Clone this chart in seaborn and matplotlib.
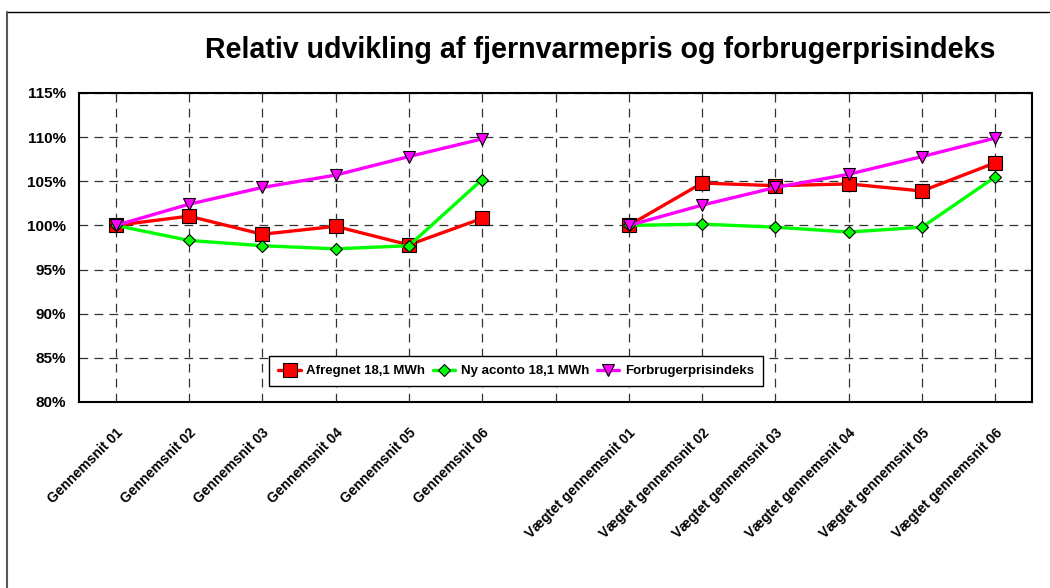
import numpy as np
import pandas as pd
import matplotlib
matplotlib.use("Agg")
import matplotlib.pyplot as plt
from matplotlib.lines import Line2D
import seaborn as sns

# ---- data ----
categories = ["Gennemsnit 01", "Gennemsnit 02", "Gennemsnit 03", "Gennemsnit 04",
              "Gennemsnit 05", "Gennemsnit 06", "",
              "Vægtet gennemsnit 01", "Vægtet gennemsnit 02", "Vægtet gennemsnit 03",
              "Vægtet gennemsnit 04", "Vægtet gennemsnit 05", "Vægtet gennemsnit 06"]
segment = [0, 0, 0, 0, 0, 0, -1, 1, 1, 1, 1, 1, 1]
afregnet = [100.0, 101.05, 99.0, 99.9, 97.8, 100.8, np.nan,
            100.0, 104.8, 104.5, 104.7, 103.9, 107.1]
ny_aconto = [100.0, 98.3, 97.7, 97.35, 97.7, 105.2, np.nan,
             100.0, 100.15, 99.8, 99.25, 99.8, 105.5]
forbruger = [100.0, 102.4, 104.3, 105.7, 107.8, 109.8, np.nan,
             100.0, 102.3, 104.3, 105.8, 107.8, 109.9]
series_names = ["Afregnet 18,1 MWh", "Ny aconto 18,1 MWh", "Forbrugerprisindeks"]
y_ticks = [80, 85, 90, 95, 100, 105, 110, 115]
title = "Relativ udvikling af fjernvarmepris og forbrugerprisindeks"

colors = ["#ff0000", "#00ff00", "#ff00ff"]
markers = ["s", "D", "v"]
msizes = [10, 6.5, 9]

sns.set_theme(style="white")
plt.rcParams["font.family"] = ["Liberation Sans", "DejaVu Sans"]
plt.rcParams["font.weight"] = "bold"
plt.rcParams["text.color"] = "black"
plt.rcParams["xtick.color"] = "black"
plt.rcParams["ytick.color"] = "black"
plt.rcParams["axes.labelcolor"] = "black"

fig = plt.figure(figsize=(10.5, 5.88), dpi=100)
ax = fig.add_axes([79 / 1050, 1 - 402 / 588, 953 / 1050, 309 / 588])

xpos = np.arange(len(categories))
for name, vals, c, m, ms in zip(series_names, [afregnet, ny_aconto, forbruger],
                                 colors, markers, msizes):
    df = pd.DataFrame({"x": xpos, "y": vals, "seg": segment}).dropna()
    sns.lineplot(data=df, x="x", y="y", units="seg", estimator=None, ax=ax,
                 color=c, lw=2.4, marker=m, markersize=ms,
                 markeredgecolor="black", markeredgewidth=0.8, legend=False)

ax.set_xlim(-0.5, len(categories) - 0.5)
ax.set_ylim(80, 115)
ax.set_xticks(xpos)
ax.set_xticklabels(categories, rotation=45, ha="right", va="top",
                   rotation_mode="anchor", fontsize=10, fontweight="bold",
                   color="black")
ax.set_yticks(y_ticks)
ax.set_yticklabels([f"{v}%" for v in y_ticks], fontsize=11, fontweight="bold",
                   color="black")
ax.tick_params(axis="x", length=0, pad=17)
ax.tick_params(axis="y", length=0, pad=9)
ax.set_xlabel("")
ax.set_ylabel("")
ax.grid(True, color="black", linestyle=(0, (7, 5)), linewidth=0.9, alpha=0.8)
for sp in ax.spines.values():
    sp.set_color("black")
    sp.set_linewidth(1.5)
    sp.set_visible(True)

handles = [Line2D([], [], color=c, lw=2.4, marker=m, markersize=ms,
                  markeredgecolor="black", markeredgewidth=0.8)
           for c, m, ms in zip(colors, markers, msizes)]
leg = ax.legend(handles, series_names, loc="center", ncol=3,
                bbox_to_anchor=(0.4586, 0.1003), frameon=True, fancybox=False,
                framealpha=1, edgecolor="black",
                prop={"weight": "bold", "size": 9.5},
                handlelength=1.7, columnspacing=0.6, handletextpad=0.4,
                borderpad=0.7)
leg.get_frame().set_linewidth(1.0)
for t in leg.get_texts():
    t.set_color("black")

fig.text(600 / 1050, 1 - 50 / 588, title, ha="center", va="center",
         fontsize=20.6, fontweight="bold", color="black")

# chart-area border (top and left)
fig.add_artist(Line2D([7 / 1050, 1], [1 - 12 / 588, 1 - 12 / 588],
                      transform=fig.transFigure, color="black", lw=1.0))
fig.add_artist(Line2D([7 / 1050, 7 / 1050], [0, 1 - 12 / 588],
                      transform=fig.transFigure, color="#555555", lw=1.5))

fig.savefig("out.png", dpi=100, facecolor="white")
